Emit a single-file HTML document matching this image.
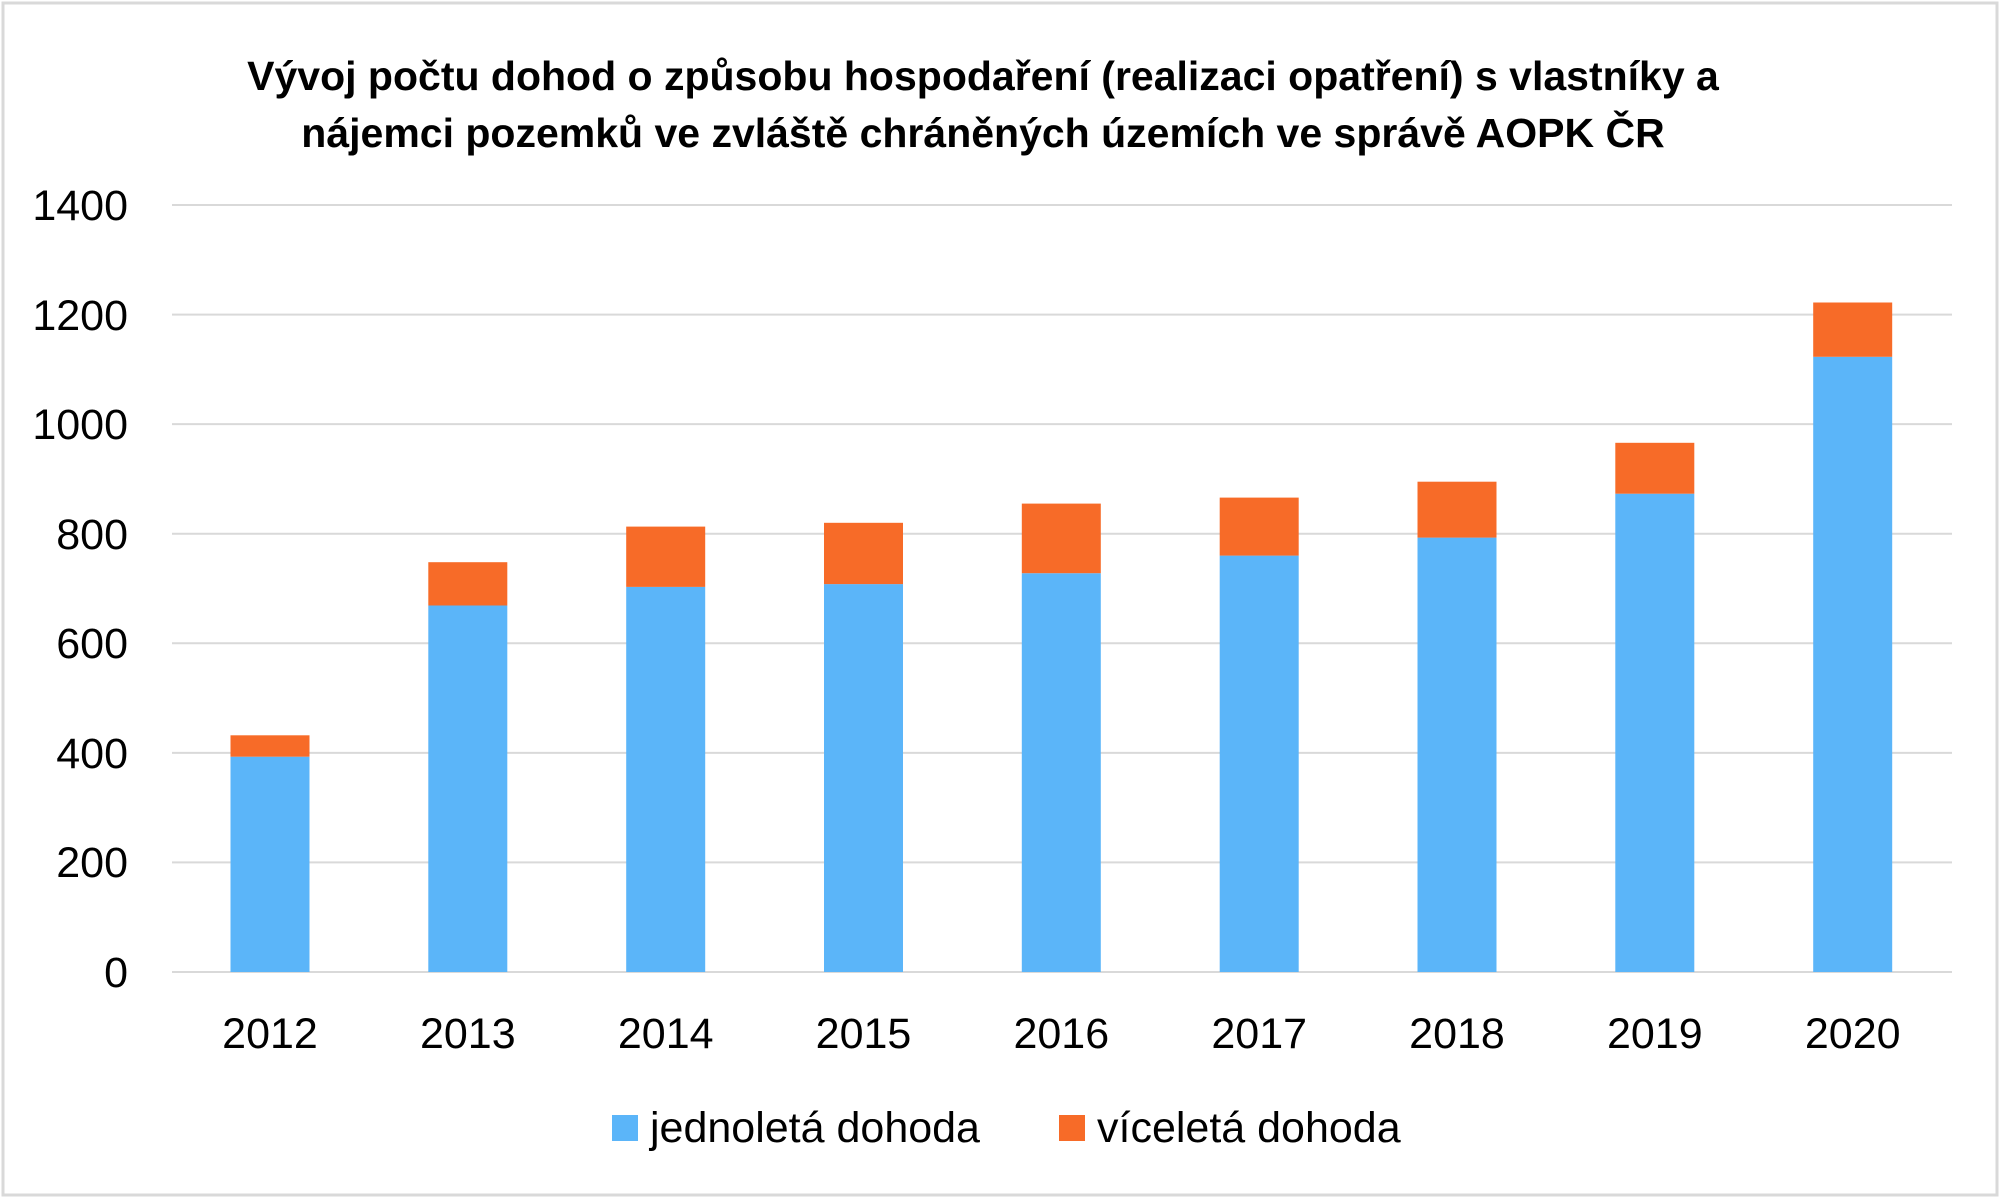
<!DOCTYPE html>
<html><head><meta charset="utf-8"><style>
html,body{margin:0;padding:0;background:#fff;}
svg{display:block;}
text{font-family:"Liberation Sans",sans-serif;fill:#000;}
</style></head><body>
<svg width="2000" height="1198" viewBox="0 0 2000 1198" xmlns="http://www.w3.org/2000/svg">
<rect x="3" y="3" width="1994" height="1192" fill="#fff" stroke="#d9d9d9" stroke-width="3"/>
<text x="983" y="90" text-anchor="middle" font-size="41" font-weight="bold">Vývoj počtu dohod o způsobu hospodaření (realizaci opatření) s vlastníky a</text>
<text x="983" y="147" text-anchor="middle" font-size="41" font-weight="bold">nájemci pozemků ve zvláště chráněných územích ve správě AOPK ČR</text>
<g stroke="#d9d9d9" stroke-width="2">
<line x1="172" x2="1952" y1="205" y2="205"/>
<line x1="172" x2="1952" y1="314.6" y2="314.6"/>
<line x1="172" x2="1952" y1="424.1" y2="424.1"/>
<line x1="172" x2="1952" y1="533.7" y2="533.7"/>
<line x1="172" x2="1952" y1="643.3" y2="643.3"/>
<line x1="172" x2="1952" y1="752.9" y2="752.9"/>
<line x1="172" x2="1952" y1="862.4" y2="862.4"/>
<line x1="172" x2="1952" y1="972" y2="972"/>
</g>
<g font-size="43" text-anchor="end">
<text x="128" y="220">1400</text>
<text x="128" y="330">1200</text>
<text x="128" y="439">1000</text>
<text x="128" y="549">800</text>
<text x="128" y="658">600</text>
<text x="128" y="768">400</text>
<text x="128" y="877">200</text>
<text x="128" y="987">0</text>
</g>
<g fill="#5BB5F9">
<rect x="230.5" y="756.7" width="79" height="215.3"/>
<rect x="428.3" y="605.5" width="79" height="366.5"/>
<rect x="626.2" y="586.9" width="79" height="385.1"/>
<rect x="824" y="584.1" width="79" height="387.9"/>
<rect x="1021.8" y="573.2" width="79" height="398.8"/>
<rect x="1219.7" y="555.6" width="79" height="416.4"/>
<rect x="1417.5" y="537.6" width="79" height="434.4"/>
<rect x="1615.3" y="493.7" width="79" height="478.3"/>
<rect x="1813.2" y="356.8" width="79" height="615.2"/>
</g>
<g fill="#F76B28">
<rect x="230.5" y="735.3" width="79" height="21.4"/>
<rect x="428.3" y="562.2" width="79" height="43.3"/>
<rect x="626.2" y="526.6" width="79" height="60.3"/>
<rect x="824" y="522.8" width="79" height="61.3"/>
<rect x="1021.8" y="503.6" width="79" height="69.6"/>
<rect x="1219.7" y="497.6" width="79" height="58"/>
<rect x="1417.5" y="481.7" width="79" height="55.9"/>
<rect x="1615.3" y="442.8" width="79" height="50.9"/>
<rect x="1813.2" y="302.5" width="79" height="54.3"/>
</g>
<g font-size="43" text-anchor="middle">
<text x="270" y="1048">2012</text>
<text x="467.8" y="1048">2013</text>
<text x="665.7" y="1048">2014</text>
<text x="863.5" y="1048">2015</text>
<text x="1061.3" y="1048">2016</text>
<text x="1259.2" y="1048">2017</text>
<text x="1457" y="1048">2018</text>
<text x="1654.8" y="1048">2019</text>
<text x="1852.7" y="1048">2020</text>
</g>
<rect x="612" y="1115" width="26" height="26" fill="#5BB5F9"/>
<text x="650" y="1142" font-size="43">jednoletá dohoda</text>
<rect x="1059" y="1115" width="26" height="26" fill="#F76B28"/>
<text x="1097" y="1142" font-size="43">víceletá dohoda</text>
</svg>
</body></html>
